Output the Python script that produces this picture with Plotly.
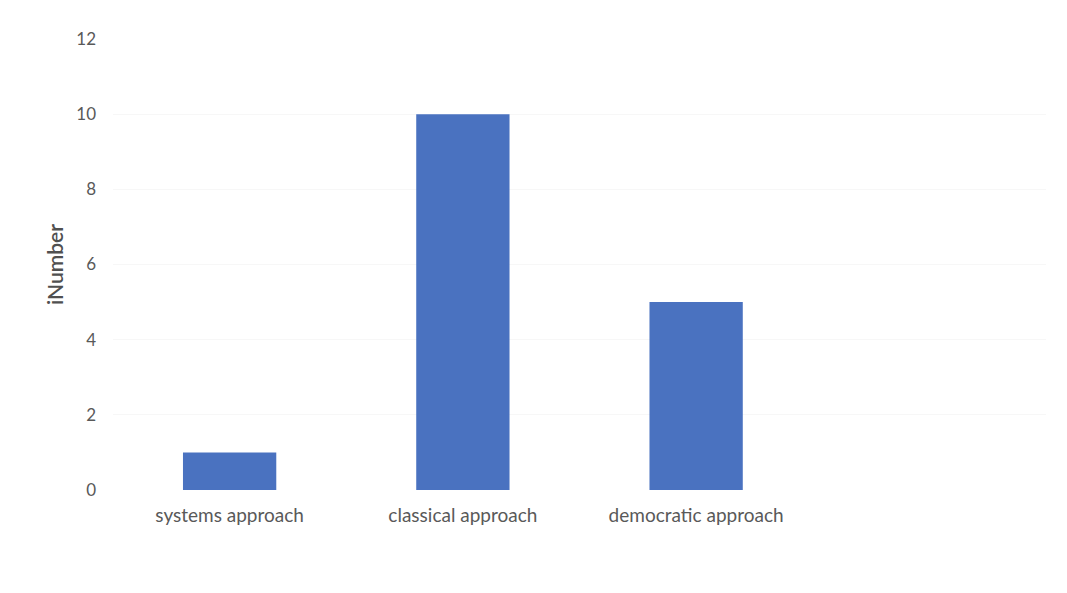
import plotly.graph_objects as go

categories = ["systems approach", "classical approach", "democratic approach"]
counts = [1, 10, 5]
y_ticks = [0, 2, 4, 6, 8, 10, 12]

fig = go.Figure(
    go.Bar(
        x=categories,
        y=counts,
        marker=dict(color="#4a72c0", line=dict(width=0)),
        width=0.4,
    )
)

fig.update_layout(
    width=1067,
    height=593,
    margin=dict(l=113, r=21, t=39, b=103),
    paper_bgcolor="white",
    plot_bgcolor="white",
    font=dict(family="Lato, 'Open Sans', sans-serif", color="#595959", size=16),
    showlegend=False,
)

fig.update_xaxes(
    type="category",
    range=[-0.5, 3.5],
    showgrid=False,
    showline=False,
    ticks="",
    ticklabelstandoff=12,
    tickfont=dict(size=19, color="#595959"),
)

fig.update_yaxes(
    range=[0, 12],
    tickvals=y_ticks,
    showgrid=True,
    gridcolor="#f7f7f7",
    gridwidth=1,
    zeroline=False,
    showline=False,
    ticks="",
    ticklabelstandoff=16,
    tickfont=dict(size=17, color="#595959"),
    title=dict(text="iNumber", font=dict(size=21, color="#505050", weight=600), standoff=6),
)

fig.write_html("out.html")
